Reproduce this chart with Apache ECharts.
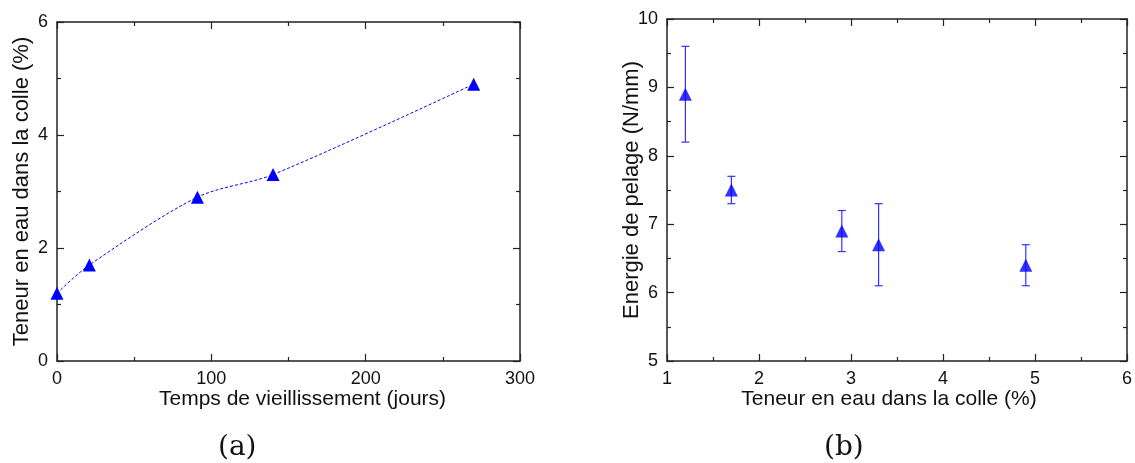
<!DOCTYPE html>
<html><head><meta charset="utf-8">
<script src="https://cdn.jsdelivr.net/npm/echarts@6/dist/echarts.min.js"></script>
<style>html,body{margin:0;padding:0;background:#fff}#c{width:1135px;height:463px}</style>
</head><body><div id="c"></div>
<script>
// Panel (a)
const agingDays = [0, 21, 91, 140, 270];
const waterContentA = [1.2, 1.7, 2.9, 3.3, 4.9];
// Panel (b)
const waterContentB = [1.2, 1.7, 2.9, 3.3, 4.9];
const peelEnergy = [8.9, 7.5, 6.9, 6.7, 6.4];
const peelLow = [8.2, 7.3, 6.6, 6.1, 6.1];
const peelHigh = [9.6, 7.7, 7.2, 7.3, 6.7];

const font = 'Liberation Sans, Arial, sans-serif';
const axColor = '#222';
const blue = '#0000ff';

function mkAxis(o) {
  const base = {
    gridIndex: o.grid, type: 'value', min: o.min, max: o.max, interval: o.interval,
    position: o.position,
    axisLine: {show: true, onZero: false, lineStyle: {color: axColor, width: 1.5}},
    axisTick: {show: true, inside: true, length: 7, lineStyle: {color: axColor, width: 1.2}},
    minorTick: {show: true, splitNumber: 2, length: 4, lineStyle: {color: axColor, width: 1.2}},
    splitLine: {show: false},
    axisLabel: {show: !o.hide, color: '#111', fontFamily: font, fontSize: 18, margin: o.margin || 9},
  };
  if (o.name && !o.hide) {
    Object.assign(base, {name: o.name, nameLocation: 'middle', nameGap: o.nameGap, nameMoveOverlap: false,
      nameTextStyle: {color: '#111', fontFamily: font, fontSize: o.nameSize, padding: o.namePad || 0}});
  }
  return base;
}

const chart = echarts.init(document.getElementById('c'));
chart.setOption({
  animation: false,
  grid: [
    {left: 57, right: 615, top: 22, bottom: 102},
    {left: 667, right: 5, top: 19, bottom: 102}
  ],
  xAxis: [
    mkAxis({grid: 0, min: 0, max: 300, interval: 100, position: 'bottom', name: 'Temps de vieillissement (jours)', nameGap: 28, nameSize: 21, margin: 9, namePad: [0, 0, 0, 28]}),
    mkAxis({grid: 0, min: 0, max: 300, interval: 100, position: 'top', hide: true}),
    mkAxis({grid: 1, min: 1, max: 6, interval: 1, position: 'bottom', name: 'Teneur en eau dans la colle (%)', nameGap: 28, nameSize: 21, margin: 9, namePad: [0, 16, 0, 0]}),
    mkAxis({grid: 1, min: 1, max: 6, interval: 1, position: 'top', hide: true})
  ],
  yAxis: [
    mkAxis({grid: 0, min: 0, max: 6, interval: 2, position: 'left', name: 'Teneur en eau dans la colle (%)', nameGap: 24, nameSize: 22}),
    mkAxis({grid: 0, min: 0, max: 6, interval: 2, position: 'right', hide: true}),
    mkAxis({grid: 1, min: 5, max: 10, interval: 1, position: 'left', name: 'Energie de pelage (N/mm)', nameGap: 24, nameSize: 22}),
    mkAxis({grid: 1, min: 5, max: 10, interval: 1, position: 'right', hide: true})
  ],
  series: [
    {
      type: 'line', xAxisIndex: 0, yAxisIndex: 0,
      data: agingDays.map((d, i) => [d, waterContentA[i]]),
      smooth: 0.3,
      symbol: 'triangle', symbolSize: 13,
      itemStyle: {color: blue},
      lineStyle: {color: blue, width: 1, type: [3, 2]}
    },
    {
      type: 'custom', xAxisIndex: 2, yAxisIndex: 2,
      data: waterContentB.map((x, i) => [x, peelLow[i], peelHigh[i]]),
      renderItem: function (params, api) {
        const lo = api.coord([api.value(0), api.value(1)]);
        const hi = api.coord([api.value(0), api.value(2)]);
        const w = 4;
        const st = {stroke: '#3333ff', lineWidth: 1.2};
        return {type: 'group', children: [
          {type: 'line', shape: {x1: lo[0], y1: lo[1], x2: hi[0], y2: hi[1]}, style: st},
          {type: 'line', shape: {x1: lo[0] - w, y1: lo[1], x2: lo[0] + w, y2: lo[1]}, style: st},
          {type: 'line', shape: {x1: hi[0] - w, y1: hi[1], x2: hi[0] + w, y2: hi[1]}, style: st}
        ]};
      },
      z: 1
    },
    {
      type: 'scatter', xAxisIndex: 2, yAxisIndex: 2,
      data: waterContentB.map((x, i) => [x, peelEnergy[i]]),
      symbol: 'triangle', symbolSize: 13,
      itemStyle: {color: blue}, z: 3
    }
  ],
  graphic: [
    {type: 'text', left: 218, top: 434, style: {text: '(a)', font: '28px "DejaVu Serif", "Liberation Serif", serif', fill: '#111'}},
    {type: 'text', left: 824, top: 434, style: {text: '(b)', font: '28px "DejaVu Serif", "Liberation Serif", serif', fill: '#111'}}
  ]
});
</script></body></html>
